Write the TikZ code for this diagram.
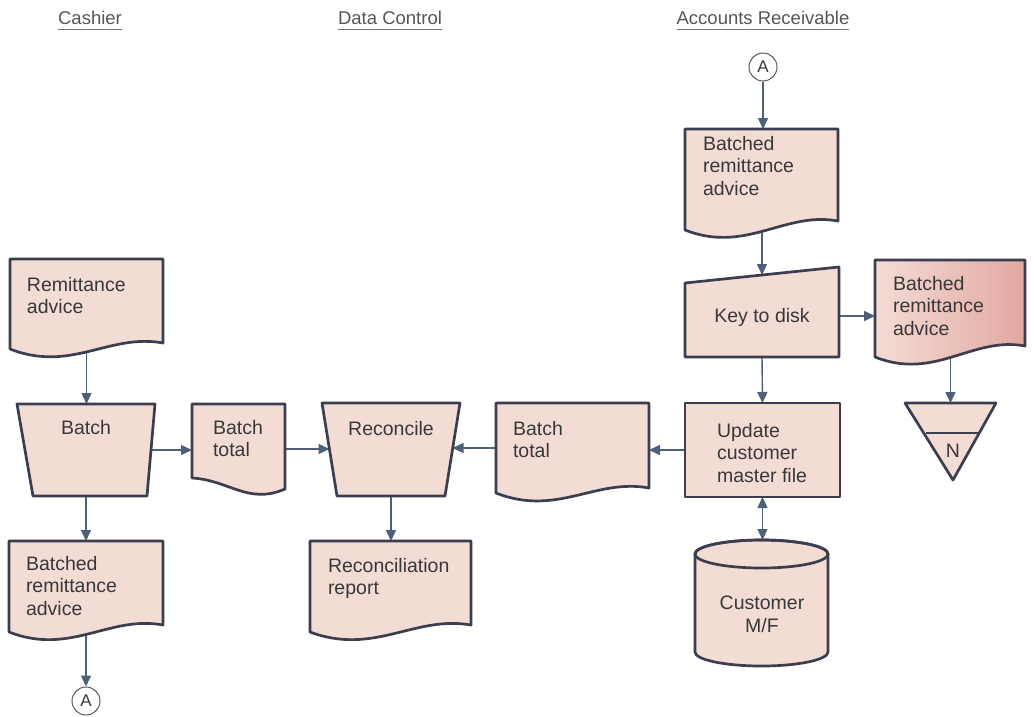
\documentclass[tikz,border=0pt]{standalone}
\usepackage{fontspec}
\setmainfont{Liberation Sans}
\usetikzlibrary{arrows.meta,calc}

\definecolor{docpink}{HTML}{F3DCD4}
\definecolor{docpinkdeep}{HTML}{E2A8A2}
\definecolor{edge}{HTML}{3A3E4E}
\definecolor{flow}{HTML}{4E5F78}
\definecolor{ink}{HTML}{383838}
\definecolor{ring}{HTML}{5A5A5A}

\tikzset{
  hold/.style={inner sep=0pt, outer sep=0pt, draw=none},
  symbol/.style={fill=docpink, draw=edge, line width=2.7pt, line join=round},
  flowline/.style={draw=flow, line width=1.4pt, -{Triangle[length=11pt,width=10pt]}},
  twoway/.style={draw=flow, line width=1.4pt, {Triangle[length=11pt,width=10pt]}-{Triangle[length=11pt,width=10pt]}},
  bodytext/.style={inner sep=0pt, outer sep=0pt, text=ink, font=\fontsize{19.5}{22.5}\selectfont, align=left, anchor=north west},
  centertext/.style={inner sep=0pt, outer sep=0pt, text=ink, font=\fontsize{19.5}{22.5}\selectfont, anchor=base},
  heading/.style={inner sep=0pt, outer sep=0pt, text depth=0pt, text=ink!85, font=\fontsize{18.5}{22}\selectfont, anchor=base},
  rule/.style={draw=ink!70, line width=0.9pt},
  offpage/.style={circle, draw=ring, line width=1pt, fill=white, minimum size=28pt, inner sep=0pt, text=ink, font=\fontsize{17}{20}\selectfont}
}

% invisible box spanning L..R, T..B, used for the anchors of a symbol
\newcommand\holdbox[5]{%
  \node[hold, minimum width={(#4-#2)*1pt}, minimum height={(#5-#3)*1pt}] (#1) at ({(#2+#4)/2},{(#3+#5)/2}) {};}
% document symbol: left, top, right, left bottom corner, right bottom corner
\newcommand\docsym[6][]{%
  \path[symbol,#1] (#2,#3) -- (#4,#3) -- (#4,#6)
    .. controls ({#4-0.35*(#4-#2)},{#6-10}) and ({#2+0.4*(#4-#2)},{#5+24}) .. (#2,#5) -- cycle;}

\begin{document}
\begin{tikzpicture}[x=1pt,y=-1pt]
\useasboundingbox[fill=white] (0,0) rectangle (1034,716);

% ---- anchor boxes of the symbols ----
\holdbox{rem}{10}{259}{163}{349}
\holdbox{batch}{25}{404}{151}{496}
\holdbox{btone}{192}{404}{285}{494}
\holdbox{braC}{9}{541}{163}{632}
\holdbox{rec}{329.5}{403}{452.5}{496}
\holdbox{recrep}{310}{541}{471}{632}
\holdbox{bttwo}{496}{403}{649}{493}
\holdbox{braA}{685}{129}{838}{230}
\holdbox{key}{685}{275}{839}{357}
\holdbox{braB}{875}{260}{1025}{357}
\holdbox{upd}{685}{403}{840}{497}
\holdbox{cyl}{695}{540}{828}{666}
\holdbox{tri}{905}{403}{996}{480}

\node[offpage] (aone) at (763,67) {A};
\node[offpage] (atwo) at (86,701) {A};

% ---- headings ----
\node[heading] (hcash) at (90,24) {Cashier};
\node[heading] (hdata) at (390,24) {Data Control};
\node[heading] (hacct) at (763,24) {Accounts Receivable};
\foreach \h in {hcash,hdata,hacct}
  \draw[rule] ([yshift=-5pt]\h.south west) -- ([yshift=-5pt]\h.south east);

% ---- flow lines ----
\draw[flowline] (aone.south) -- (aone.south |- braA.north);
\draw[flowline] (braA.south -| key.north) -- (key.north);
\draw[flowline] (key.east) -- (key.east -| braB.west);
\draw[flowline] (key.south) -- (upd.north);
\draw[flowline] (tri.north |- braB.south) -- (tri.north);
\draw[twoway] (upd.south) -- (upd.south |- cyl.north);
\draw[flowline] (upd.west) -- (upd.west -| bttwo.east);
\draw[flowline] (bttwo.west) -- (bttwo.west -| rec.east);
\draw[flowline] (btone.east) -- (btone.east -| rec.west);
\draw[flowline] (rec.south) -- (rec.south |- recrep.north);
\draw[flowline] (batch.east) -- (batch.east -| btone.west);
\draw[flowline] (rem.south) -- (rem.south |- batch.north);
\draw[flowline] (batch.south -| braC.north) -- (braC.north);
\draw[flowline] (braC.south -| atwo.north) -- (atwo.north);

% ---- symbols ----
\docsym{10}{259}{163}{349}{343}
\docsym{9}{541}{163}{632}{625}
\docsym{310}{541}{471}{632}{625}
\docsym{496}{403}{649}{493}{488}
\docsym{685}{129}{838}{230}{221}
\docsym[left color=docpink, right color=docpinkdeep]{875}{260}{1025}{357}{346}
% narrow document with its dip toward the right
\path[symbol] (192,404) -- (285,404) -- (285,489)
  .. controls (248,505) and (229,480) .. (192,478) -- cycle;
% manual operations
\path[symbol] (17,404) -- (155,404) -- (147,496) -- (33,496) -- cycle;
\path[symbol] (322,403) -- (460,403) -- (445,496) -- (337,496) -- cycle;
% manual input
\path[symbol] (685,283) -- (839,267) -- (839,357) -- (685,357) -- cycle;
% process
\path[symbol] (685,403) rectangle (840,497);
% off-line file
\path[symbol] (905,403) -- (996,403) -- (953,480) -- cycle;
\draw[edge, line width=2pt] (926,433) -- (980,433);
% disk storage
\path[symbol] (695,554) -- (695,652)
  arc[start angle=180, end angle=360, x radius=66.5pt, y radius=14pt]
  -- (828,554)
  arc[start angle=0, end angle=180, x radius=66.5pt, y radius=14pt] -- cycle;
\draw[edge, line width=2.7pt] (761.5,554) ellipse [x radius=66.5pt, y radius=14pt];

% ---- texts ----
\node[bodytext] (trem) at (27,277) {Remittance\\advice};
\node[centertext] (tbatch) at (86,434) {Batch};
\node[bodytext] (tbtone) at (213,420) {Batch\\total};
\node[bodytext] (tbraC) at (26,556) {Batched\\remittance\\advice};
\node[centertext] (trec) at (391,435) {Reconcile};
\node[bodytext] (trecrep) at (328,558) {Reconciliation\\report};
\node[bodytext] (tbttwo) at (513,421) {Batch\\total};
\node[bodytext] (tbraA) at (703,136) {Batched\\remittance\\advice};
\node[centertext] (tkey) at (762,322) {Key to disk};
\node[bodytext] (tbraB) at (893,276) {Batched\\remittance\\advice};
\node[bodytext] (tupd) at (717,423) {Update\\customer\\master file};
\node[bodytext, align=center, anchor=north] (tcyl) at (762,596) {Customer\\M/F};
\node[centertext] (tn) at (953,457) {N};
\end{tikzpicture}
\end{document}
